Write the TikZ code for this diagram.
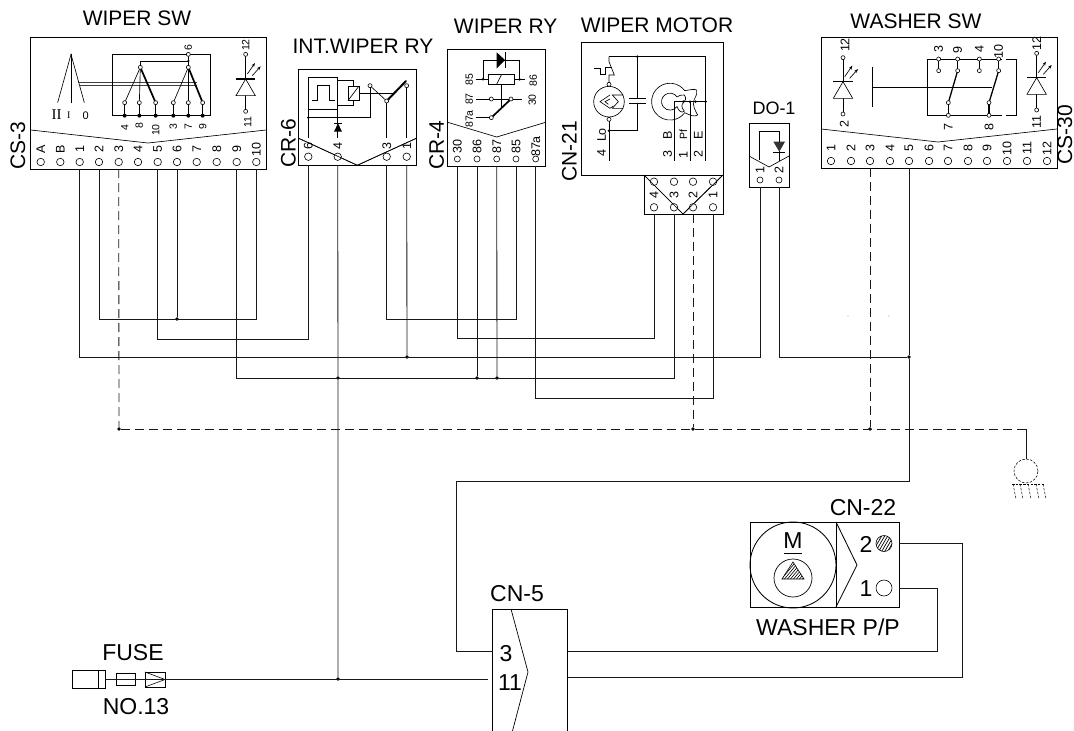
\documentclass[tikz,border=0pt]{standalone}
\usepackage{fontspec}
\setmainfont{Liberation Sans}
\newfontfamily\romanf{Liberation Serif}
\tikzset{
  every node/.style={inner sep=0pt,outer sep=0pt},
  thin line/.style={line width=0.65pt},
  wire/.style={line width=0.85pt,black!90,line join=miter},
  dashwire/.style={wire,dash pattern=on 9pt off 5pt},
  boxn/.style={draw,line width=0.85pt,anchor=north west},
  heavy/.style={line width=2pt,line cap=round},
  pinc/.style={circle,draw,line width=0.6pt,minimum size=7.5pt,fill=white},
  junct/.style={circle,fill=black,minimum size=3.6pt},
  title/.style={font=\fontsize{21}{21}\selectfont},
  big/.style={font=\fontsize{23}{23}\selectfont},
  mid/.style={font=\fontsize{18}{18}\selectfont},
  rtitle/.style={title,rotate=90},
  pl/.style={font=\fontsize{12.5}{12.5}\selectfont,rotate=90},
  sl/.style={font=\fontsize{10.5}{10.5}\selectfont,rotate=90},
}
\newcommand{\opn}[1]{\draw[line width=0.6pt,fill=white] #1 circle[radius=2pt];}
\newcommand{\bdot}[1]{\fill #1 circle[radius=1.4pt];}
\newcommand{\ledsym}[4]{% x, top circle y, bar y, bottom circle y (zoom units)
  \draw[thin line] (#1,#2) -- (#1,#4);
  \draw[thin line,fill=white] (#1,#3) -- (#1-29,#3+50) -- (#1+29,#3+50) -- cycle;
  \draw[line width=1.3pt] (#1-29,#3) -- (#1+29,#3);
  \opn{(#1,#2)} \opn{(#1,#4)}
  \draw[thin line,-{Stealth[length=4pt,width=3pt]}] (#1+5,#3-15) -- (#1+28,#3-48);
  \draw[thin line,-{Stealth[length=4pt,width=3pt]}] (#1+20,#3-10) -- (#1+45,#3-38);
}
\usetikzlibrary{arrows.meta}
\begin{document}
\begin{tikzpicture}[x=1pt,y=-1pt]
\useasboundingbox (0,0) rectangle (1074,731);

% ---------------- boxes
\node[boxn,minimum width=235.5pt,minimum height=132pt] (sw) at (30.7,37) {};
\node[boxn,minimum width=117.6pt,minimum height=95.6pt] (int) at (298.7,69.7) {};
\node[boxn,minimum width=98pt,minimum height=117pt] (ry) at (447.7,49) {};
\node[boxn,minimum width=142pt,minimum height=133pt] (mot) at (581,42) {};
\node[boxn,minimum width=79pt,minimum height=39pt] (motc) at (644,175) {};
\node[boxn,minimum width=40pt,minimum height=64pt] (dio) at (749,123) {};
\node[boxn,minimum width=236pt,minimum height=131pt] (wsw) at (821,37) {};
\node[boxn,minimum width=149pt,minimum height=85pt] (pp) at (750,522) {};

% ---------------- titles
\node[title] (tsw) at (137,18) {WIPER SW};
\node[title] (tint) at (363,46) {INT.WIPER RY};
\node[title] (try) at (505.7,26.5) {WIPER RY};
\node[title] (tmot) at (657,25.5) {WIPER MOTOR};
\node[mid] (tdio) at (774,108) {DO-1};
\node[title] (twsw) at (916,21.5) {WASHER SW};
\node[rtitle] (tcs3) at (18,146) {CS-3};
\node[rtitle] (tcr6) at (288.3,143) {CR-6};
\node[rtitle] (tcr4) at (436.7,145) {CR-4};
\node[rtitle] (tcn21) at (569.3,151) {CN-21};
\node[rtitle] (tcs30) at (1065,135) {CS-30};
\node[big] (tcn22) at (863,508) {CN-22};
\node[big] (tpp) at (828,627) {WASHER P/P};
\node[big] (tcn5) at (517,594) {CN-5};
\node[big] (tfuse) at (133,653) {FUSE};
\node[big] (tno) at (136,707) {NO.13};

% ---------------- connector dividers
\draw[thin line] (sw.west |- 0,130) -- (148,143) -- (sw.east |- 0,130);
\draw[thin line] (int.west |- 0,138.3) -- (357.3,165.3) -- (int.east |- 0,138.3);
\draw[thin line] (ry.west |- 0,122.3) -- (496.7,137) -- (ry.east |- 0,122.3);
\draw[thin line] (motc.north west) -- (683,214) -- (motc.north east);
\draw[thin line] (dio.west |- 0,156) -- (769,167) -- (dio.east |- 0,156);
\draw[thin line] (wsw.west |- 0,129) -- (938,142) -- (wsw.east |- 0,129);

% ---------------- pins
\foreach \x/\n in {40.7/A,60.3/B,79.7/1,99/2,118.7/3,138/4,157.7/5,177/6,196.7/7,216.7/8,236.7/9,256.3/10}{
  \node[pinc] (sw\n) at (\x,162) {};
  \node[pl] (swl\n) at (\x,149.5) {\n};
}
\foreach \x/\n in {308.3/6,337.7/4,386.7/3,406.7/1}{
  \node[pinc] (int\n) at (\x,156.7) {};
  \node[pl] (intl\n) at (\x,146.5) {\n};
}
\foreach \x/\n in {457.3/30,477/86,496.7/87,516/85,535.7/87a}{
  \node[pinc,minimum size=6pt] (ry\n) at (\x,159) {};
  \node[pl] (ryl\n) at (\x,146.5) {\n};
}
\foreach \x/\n in {654/4,674/3,693/2,713/1}{
  \node[pinc] (mot\n) at (\x,207.3) {};
  \node[pl] (motl\n) at (\x,195) {\n};
}
\foreach \x/\n in {654/a,674/b,693/c,713/d}{
  \node[pinc] (mots\n) at (\x,181.7) {};
}
\foreach \x/\n in {760/1,779/2}{
  \node[pinc,minimum size=6pt] (dio\n) at (\x,180) {};
  \node[pl] (diol\n) at (\x,170.5) {\n};
}
\foreach \x/\n in {831/1,851/2,870/3,890/4,909/5,929/6,948/7,968/8,987/9,1007/10,1027/11,1047/12}{
  \node[pinc] (wsw\n) at (\x,161) {};
  \node[pl] (wswl\n) at (\x,148.5) {\n};
}
% divider redrawn over the motor pins
\draw[thin line] (motc.north west) -- (683,214) -- (motc.north east);
\draw[thin line] (int.west |- 0,138.3) -- (357.3,165.3) -- (int.east |- 0,138.3);

% ---------------- WIPER SW interior
\begin{scope}[xshift=20pt,x=0.33333pt,y=-0.33333pt]
  \draw[thin line] (113,308) -- (153,163) -- (193,308);
  \draw[thin line] (153,163) -- (153,308);
  \draw[line width=0.8pt,black!75] (175,248) -- (530,248);
  \draw[line width=0.8pt,black!75] (180,256) -- (530,256);
  \draw[thin line] (277,163) rectangle (571,347);
  \draw[thin line] (361,202) -- (361,183) -- (505,183);
  \draw[thin line] (505,163) -- (505,202);
  \foreach \x in {314,358,407,460,505,548}{
    \draw[thin line] (\x,308) -- (\x,347);
    \fill (\x,347) circle[radius=2pt];
  }
  \draw[thin line] (361,202) -- (314,308);
  \draw[thin line] (361,202) -- (358,308);
  \draw[line width=1.7pt] (361,202) -- (407,308);
  \draw[thin line] (505,202) -- (460,308);
  \draw[thin line] (505,202) -- (505,308);
  \draw[line width=1.7pt] (505,202) -- (548,308);
  \foreach \x in {314,358,407,460,505,548}{ \opn{(\x,308)} }
  \opn{(361,202)} \opn{(505,202)} \opn{(505,163)}
  \fill (505,183) circle[radius=1.2pt];
  \node[sl] (s6) at (505,142) {6};
  \node[sl] (s4) at (314,382) {4};
  \node[sl] (s8) at (358,378) {8};
  \node[sl] (s10) at (407,390) {10};
  \node[sl] (s3) at (460,380) {3};
  \node[sl] (s7) at (505,380) {7};
  \node[sl] (s9) at (548,380) {9};
  \node[font=\romanf\fontsize{15}{15}\selectfont] (sII) at (110,345) {II};
  \node[font=\romanf\fontsize{10}{10}\selectfont] (sI) at (146,345) {I};
  \node[font=\fontsize{11}{11}\selectfont] (s0) at (197,347) {0};
  \ledsym{677}{163}{237}{334}
  \node[sl] (s12) at (677,135) {12};
  \node[sl] (s11) at (683,366) {11};
\end{scope}

% ---------------- INT.WIPER RY interior
\begin{scope}[xshift=280pt,x=0.33333pt,y=-0.33333pt]
  \draw[thin line] (85,415) -- (85,232) -- (173,232) -- (173,328) -- (85,328);
  \draw[thin line] (95,300) -- (113,300) -- (113,256) -- (147,256) -- (147,300) -- (165,300);
  \draw[thin line] (173,328) -- (173,415);
  \fill[black] (162,395) -- (186,395) -- (174,370) -- cycle;
  \draw[line width=1pt] (162,369) -- (186,369);
  \draw[thin line] (85,353) -- (270,353) -- (270,257);
  \bdot{(85,353)}
  \draw[thin line] (173,242) -- (221,242) -- (221,258);
  \draw[thin line] (173,317) -- (221,317) -- (221,302);
  \draw[thin line] (204,258) rectangle (237,302);
  \draw[thin line] (204,302) -- (237,258);
  \draw[thin line] (237,280) -- (345,280);
  \draw[thin line] (270,257) -- (320,303);
  \draw[heavy] (320,303) -- (378,243);
  \draw[thin line] (320,303) -- (320,415);
  \draw[thin line] (380,257) -- (380,415);
  \opn{(270,257)} \opn{(320,303)} \opn{(380,257)}
\end{scope}

% ---------------- WIPER RY interior
\begin{scope}[xshift=280pt,x=0.33333pt,y=-0.33333pt]
  \draw[thin line] (609,238) -- (609,180) -- (719,180) -- (719,238);
  \fill (650,157) -- (650,205) -- (675,180) -- cycle;
  \draw[line width=1pt] (675,157) -- (675,205);
  \draw[thin line] (625,223) rectangle (703,253);
  \draw[thin line] (650,253) -- (665,223);
  \draw[thin line] (589,238) -- (625,238);
  \draw[thin line] (703,238) -- (735,238);
  \bdot{(609,238)} \bdot{(719,238)}
  \draw[thin line] (663,253) -- (663,325);
  \draw[thin line] (589,297) -- (725,297);
  \draw[thin line] (589,353) -- (634,353);
  \draw[line width=1.7pt] (634,353) -- (693,297);
  \opn{(634,297)} \opn{(693,297)} \opn{(634,353)}
  \node[sl] (r85) at (568,238) {85};
  \node[sl] (r86) at (760,242) {86};
  \node[sl] (r87) at (568,297) {87};
  \node[sl] (r30) at (757,300) {30};
  \node[sl] (r87a) at (568,357) {87a};
\end{scope}

% ---------------- WIPER MOTOR interior
\begin{scope}[xshift=555pt,x=0.33333pt,y=-0.33333pt]
  \draw[thin line] (162,170) -- (452,170) -- (452,482);
  \bdot{(247,170)}
  \draw[thin line] (247,170) -- (247,295);
  \draw[line width=1.3pt] (222,295) -- (272,295);
  \draw[line width=1.3pt] (222,310) -- (272,310);
  \draw[thin line] (247,310) -- (247,392) -- (162,392);
  \bdot{(162,392)}
  \draw[thin line] (162,358) -- (162,482);
  \draw[thin line] (162,170) -- (162,185) -- (178,225) -- (162,225) -- (162,253);
  \draw[thin line] (118,205) -- (135,205) -- (135,222) -- (150,222) -- (150,203) -- (170,203);
  \draw[thin line] (162,305) circle[radius=15.3pt];
  \opn{(162,253)} \opn{(162,358)}
  \draw[thin line] (205,285) -- (172,285) -- (190,305) -- (172,325) -- (205,325);
  \draw[thin line] (165,285) -- (135,305) -- (165,325) -- (175,318);
  \draw[thin line] (165,297) -- (150,305) -- (160,313);
  % cam
  \draw[thin line] (345,305) ++(37:18.4pt) arc[start angle=37,end angle=323,radius=18.4pt]
     .. controls (405,345) and (418,352) .. (428,345)
     .. controls (420,330) and (412,318) .. (417,300)
     .. controls (425,285) and (427,278) .. (425,270)
     .. controls (415,266) and (405,270) .. (389,272);
  \draw[thin line] (345,305) ++(35:8.5pt) arc[start angle=35,end angle=325,radius=8.5pt]
     .. controls (372,335) and (380,340) .. (388,333)
     .. controls (380,325) and (378,315) .. (385,308)
     .. controls (392,300) and (395,295) .. (388,285)
     .. controls (380,282) and (372,288) .. (366,291);
  \draw[thin line] (358,305) -- (452,305);
  \draw[thin line] (358,305) -- (358,482);
  \draw[thin line] (405,305) -- (405,482);
  \bdot{(385,305)} \bdot{(405,305)} \bdot{(422,305)} \bdot{(452,305)}
  \node[pl] (m4) at (140,460) {4};
  \node[pl] (mLo) at (140,405) {Lo};
  \node[pl] (m3) at (338,462) {3};
  \node[pl] (mB) at (338,405) {B};
  \node[pl] (m1) at (385,465) {1};
  \node[sl] (mPf) at (385,405) {Pf};
  \node[pl] (m2) at (430,462) {2};
  \node[pl] (mE) at (430,405) {E};
\end{scope}

% ---------------- DO-1 interior
\begin{scope}[xshift=555pt,x=0.33333pt,y=-0.33333pt]
  \draw[thin line] (614,480) -- (614,393) -- (673,393) -- (673,482);
  \fill[black!80] (655,425) -- (690,425) -- (673,455) -- cycle;
  \draw[line width=1pt] (655,458) -- (690,458);
\end{scope}

% ---------------- WASHER SW interior
\begin{scope}[xshift=810pt,x=0.33333pt,y=-0.33333pt]
  \ledsym{99}{173}{245}{342}
  \node[pl] (w12a) at (105,135) {12};
  \node[pl] (w2a) at (103,372) {2};
  \ledsym{680}{160}{233}{330}
  \node[pl] (w12b) at (680,130) {12};
  \node[pl] (w11) at (680,366) {11};
  \draw[thin line] (187,200) -- (187,320);
  \draw[thin line] (187,262) -- (545,262);
  \draw[thin line] (575,177) -- (353,177) -- (353,346) -- (575,346);
  \draw[thin line] (587,177) -- (620,177) -- (620,346) -- (587,346);
  \foreach \x in {386,443,508,566}{ \draw[thin line] (\x,177) -- (\x,212); }
  \draw[thin line] (415,308) -- (415,346);
  \draw[line width=1.3pt] (537,308) -- (537,346);
  \draw[line width=1.3pt] (443,212) -- (415,308);
  \draw[line width=1.3pt] (566,212) -- (537,308);
  \foreach \x in {386,443,508,566}{ \opn{(\x,177)} \opn{(\x,212)} }
  \foreach \x in {415,537}{ \opn{(\x,308)} \opn{(\x,346)} }
  \node[pl] (w3) at (386,148) {3};
  \node[pl] (w9) at (443,150) {9};
  \node[pl] (w4) at (508,147) {4};
  \node[pl] (w10) at (566,155) {10};
  \node[pl] (w7) at (415,380) {7};
  \node[pl] (w8) at (537,380) {8};
\end{scope}

% ---------------- WASHER P/P
\draw[line width=0.85pt] (836,522) -- (836,607);
\draw[line width=0.85pt] (836,522) -- (857,565) -- (836,607);
\draw[line width=0.85pt] (793,565) circle[radius=43pt];
\draw[line width=0.7pt] (793,578) circle[radius=19pt];
\begin{scope}
  \clip (793,562) -- (782,579) -- (804,579) -- cycle;
  \foreach \d in {0,3,...,42}{ \draw[line width=0.6pt] (776+\d,582) -- (776+\d+20,558); }
\end{scope}
\draw[line width=0.6pt] (793,562) -- (782,579) -- (804,579) -- cycle;
\node[big] (tm) at (793,541) {M};
\draw[line width=0.8pt] (784,553) -- (802,553);
\node[big] (p2) at (866,544) {2};
\node[big] (p1) at (866,589) {1};
\begin{scope}
  \clip (884,543.5) circle[radius=8pt];
  \foreach \d in {0,3,...,33}{ \draw[line width=0.7pt] (870+\d,556) -- (870+\d+14,532); }
\end{scope}
\node[circle,draw,line width=0.6pt,minimum size=16pt] (c2) at (884,543.5) {};
\node[circle,draw,line width=0.6pt,minimum size=16pt] (c1) at (884,588) {};

% ---------------- CN-5 and fuse
\draw[line width=0.85pt] (492,731) -- (492,609) -- (567.5,609) -- (567.5,731);
\coordinate (cn5a) at (493,651);
\coordinate (cn5b) at (488,679);
\coordinate (cn5c) at (567.5,651);
\coordinate (cn5d) at (567.5,677);
\draw[line width=0.7pt] (511,609) -- (528,672) -- (512.5,731);
\node[big] (t3) at (506,654) {3};
\node[big] (t11) at (510,683) {11};
\node[draw,line width=0.7pt,minimum width=33pt,minimum height=18pt,anchor=north west] (fh) at (72,670) {};
\draw[line width=0.7pt] (98,670) -- (98,688);
\node[draw,line width=0.6pt,minimum width=19pt,minimum height=12pt,anchor=north west] (fu) at (116,673) {};
\node[draw,line width=0.6pt,minimum width=20pt,minimum height=15pt,anchor=north west] (fc) at (145,672) {};
\draw[line width=0.6pt] (fc.north west) -- (fc.east) -- (fc.south west);

% ---------------- wires
\node[junct] (j1) at (177,319) {};
\node[junct] (j2) at (407,357) {};
\node[junct] (j3) at (909,357) {};
\node[junct] (j4) at (338,378) {};
\node[junct] (j5) at (477,378) {};
\node[junct] (j6) at (497,378) {};
\node[junct] (j7) at (338,679) {};
\node[junct] (d1) at (119,429) {};
\node[junct] (d2) at (693,429) {};
\node[junct] (d3) at (870,429) {};

\draw[wire] (sw2 |- sw.south) |- (sw10 |- j1) -- (sw10 |- sw.south);
\draw[wire] (sw6 |- sw.south) -- (j1);
\draw[wire] (sw1 |- sw.south) |- (dio1 |- j2) -- (dio1 |- dio.south);
\draw[wire] (dio2 |- dio.south) |- (j3);
\draw[wire] (wsw5 |- wsw.south) -- (j3) -- (909,481) -| (456,651) -- (cn5a);
\draw[wire] (sw5 |- sw.south) |- (int6 |- 0,339) -- (int6 |- int.south);
\draw[wire] (sw9 |- sw.south) |- (mot3 |- j4) -- (mot3 |- motc.south);
\draw[wire] (int4 |- int.south) -- (j4) -- (j7);
\draw[wire] (int3 |- int.south) |- (ry85 |- j1) -- (ry85 |- ry.south);
\draw[wire] (int1 |- int.south) -- (j2);
\draw[wire] (ry30 |- ry.south) |- (mot4 |- 0,338) -- (mot4 |- motc.south);
\draw[wire] (ry86 |- ry.south) -- (j5);
\draw[wire] (ry87 |- ry.south) -- (j6);
\draw[wire] (ry87a |- ry.south) |- (mot1 |- 0,398) -- (mot1 |- motc.south);
\draw[dashwire] (sw3 |- sw.south) -- (d1);
\draw[dashwire] (mot2 |- motc.south) -- (d2);
\draw[dashwire] (wsw3 |- wsw.south) -- (d3);
\coordinate (gt) at (1026,429);
\node[circle,draw,dash pattern=on 2.5pt off 1.5pt,line width=0.55pt,minimum size=24pt] (gc) at (1026,471) {};
\draw[dashwire] (d1) -- (gt);
\draw[wire] (gt) -- (gc.north);
\draw[line width=0.7pt,dash pattern=on 2.5pt off 1.2pt] (1012,484) -- (1044,484);
\foreach \x in {1013,1020,1028,1036,1043}{
  \draw[line width=0.5pt,dash pattern=on 2.5pt off 1.5pt] (\x,484) -- (\x+3,499);
}
\draw[wire] (fh.east) -- (cn5b);
\draw[wire] (cn5c) -- (937,651) |- (c1.east -| pp.east);
\draw[wire] (cn5d) -- (962,677) |- (c2.east -| pp.east);
\fill (848,316) circle[radius=0.4pt];
\fill (889,316) circle[radius=0.4pt];
\end{tikzpicture}
\end{document}
